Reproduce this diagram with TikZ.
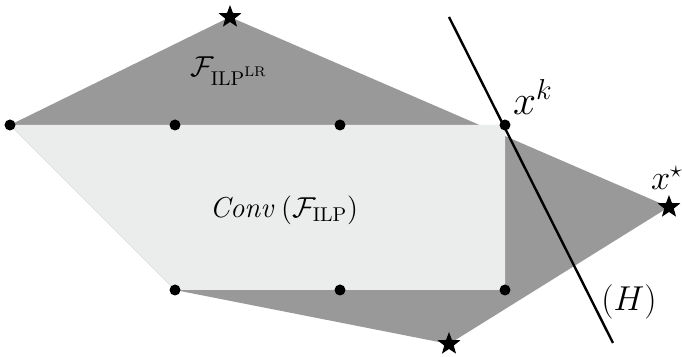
\documentclass[tikz,border=0pt]{standalone}
\usepackage{amsmath, amssymb}
\usetikzlibrary{shapes.geometric}
\definecolor{relaxgray}{HTML}{999999}
\definecolor{hullgray}{HTML}{EBECEC}
\tikzset{
  intpt/.style={circle, fill=black, inner sep=0pt, minimum size=5.5pt},
  optstar/.style={star, star points=5, star point ratio=2.4, fill=black,
                  inner sep=0pt, minimum size=12pt}
}

\begin{document}
\begin{tikzpicture}[x=0.5pt, y=-0.5pt]
      \useasboundingbox (0,0) rectangle (682,357);
      % vertices
      \coordinate (a) at (10,125);
      \coordinate (b) at (175,125);
      \coordinate (c) at (340,125);
      \coordinate (xk) at (505,125);
      \coordinate (d) at (175,290);
      \coordinate (e) at (340,290);
      \coordinate (f) at (505,290);
      \coordinate (stop) at (230,17);
      \coordinate (sright) at (669,207);
      \coordinate (sbot) at (449,344);
      \coordinate (htop) at (449,17);
      \coordinate (hbot) at (613,343);
      % relaxation and convex hull
      \fill[relaxgray] (a) -- (stop) -- (sright) -- (sbot) -- (d) -- cycle;
      \fill[hullgray] (a) -- (xk) -- (f) -- (d) -- cycle;
      % cutting plane
      \draw[line width=1.2pt] (htop) -- (hbot);
      % points
      \foreach \p in {a, b, c, xk, d, e, f}
        \node[intpt] (n\p) at (\p) {};
      \foreach \p in {stop, sright, sbot}
        \node[optstar] (n\p) at (\p) {};
      % labels
      \node[font=\Large] (lrlab) at (229,71) {$\mathcal{F}_{\mathrm{ILP}^{\mathrm{LR}}}$};
      \node[font=\Large] (convlab) at (284,210) {$\mathit{Conv}\,(\mathcal{F}_{\mathrm{ILP}})$};
      \node[font=\huge] (xklab) at (533,97) {$x^{k}$};
      \node[font=\LARGE] (xslab) at (667,178) {$x^{\star}$};
      \node[font=\fontsize{19}{23}\selectfont] (hlab) at (629,302) {$(H)$};
    \end{tikzpicture}
\end{document}
